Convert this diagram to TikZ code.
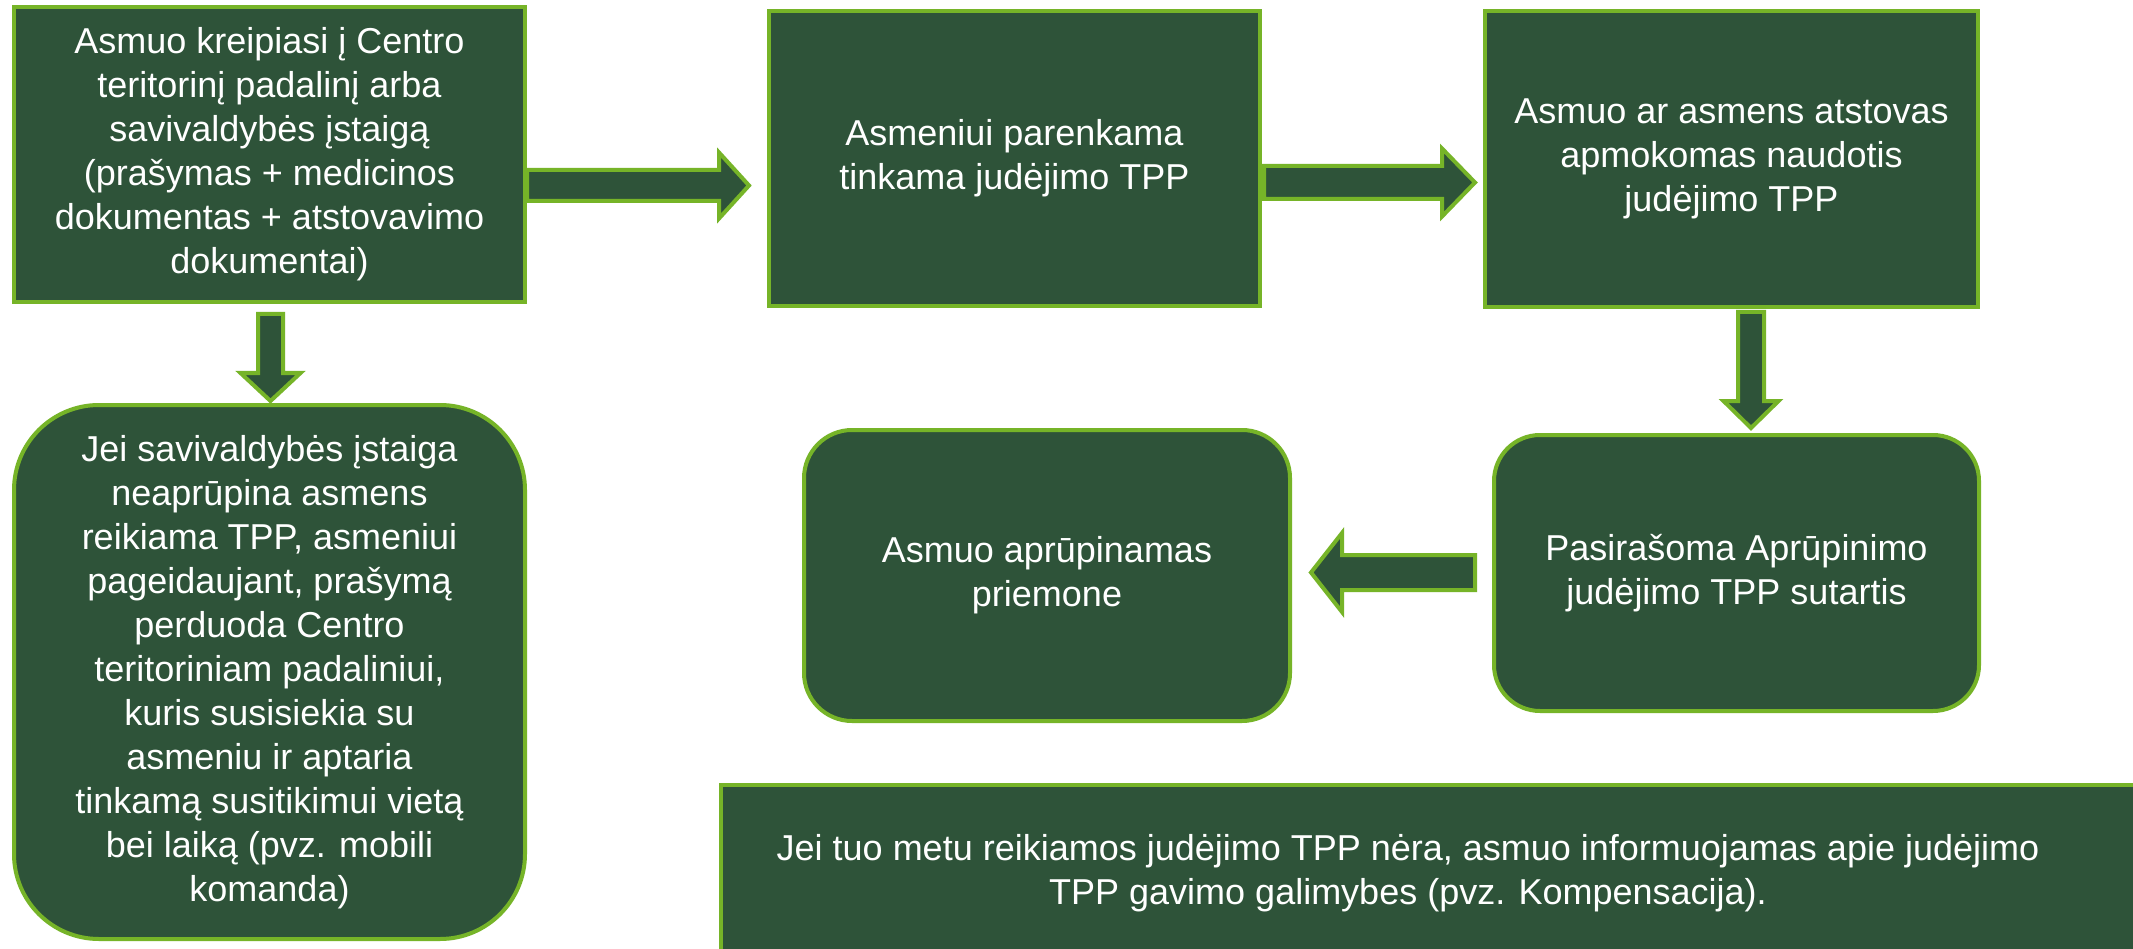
\documentclass[tikz,border=0pt]{standalone}
\usepackage{fontspec}
\setmainfont{Liberation Sans}
\usetikzlibrary{calc}
\definecolor{boxfill}{RGB}{46,83,57}
\definecolor{boxline}{RGB}{118,180,40}
\begin{document}
\begin{tikzpicture}[x=1pt,y=-1pt,
  txt/.style={text=white, align=center, font=\fontsize{36}{44}\selectfont, inner sep=0pt},
  box/.style={txt, draw=boxline, fill=boxfill, line width=4pt},
  arr/.style={draw=boxline, fill=boxfill, line width=4pt, line join=miter}]
\clip (0,0) rectangle (2133,949);
\fill[white] (0,0) rectangle (2133,949);

% boxes
\node[box, minimum width=511pt, minimum height=295pt] (A) at (269.5,154.5)
  {Asmuo kreipiasi į Centro\\teritorinį padalinį arba\\savivaldybės įstaigą\\(prašymas + medicinos\\dokumentas + atstovavimo\\dokumentai)};
\node[box, minimum width=491pt, minimum height=295pt] (B) at (1014.5,158.5)
  {Asmeniui parenkama\\tinkama judėjimo TPP};
\node[box, minimum width=493pt, minimum height=296pt] (C) at (1731.5,159)
  {Asmuo ar asmens atstovas\\apmokomas naudotis\\judėjimo TPP};
\node[box, rounded corners=46pt, minimum width=485pt, minimum height=276pt] (D) at (1736.5,573)
  {Pasirašoma Aprūpinimo\\judėjimo TPP sutartis};
\node[box, rounded corners=48pt, minimum width=486pt, minimum height=291pt] (E) at (1047,575.5)
  {Asmuo aprūpinamas\\priemone};
\node[box, rounded corners=85pt, minimum width=511pt, minimum height=534pt] (F) at (269.5,672)
  {Jei savivaldybės įstaiga\\neaprūpina asmens\\reikiama TPP, asmeniui\\pageidaujant, prašymą\\perduoda Centro\\teritoriniam padaliniui,\\kuris susisiekia su\\asmeniu ir aptaria\\tinkamą susitikimui vietą\\bei laiką (pvz. mobili\\komanda)};
\node[box, minimum width=1439pt, minimum height=177pt] (G) at (1440.5,873.5) {};
\node[txt] (Gt) at (1408,873)
  {Jei tuo metu reikiamos judėjimo TPP nėra, asmuo informuojamas apie judėjimo\\TPP gavimo galimybes (pvz. Kompensacija).};

% helper levels
\coordinate (yab) at (0,185.5);
\coordinate (ybc) at (0,182.5);
\coordinate (xcd) at (1751,0);
\coordinate (yde) at (0,572.5);
\coordinate (xaf) at (270.5,0);

% A -> B
\coordinate (s1) at (A.east |- yab);
\coordinate (t1) at ($(B.west |- yab)+(-18,0)$);
\draw[arr] ($(s1)+(0,-15.5)$) -- ($(t1)+(-30,-15.5)$) -- ($(t1)+(-30,-33)$) -- (t1)
  -- ($(t1)+(-30,33)$) -- ($(t1)+(-30,15.5)$) -- ($(s1)+(0,15.5)$) -- cycle;

% B -> C
\coordinate (s2) at ($(B.east |- ybc)+(2,0)$);
\coordinate (t2) at ($(C.west |- ybc)+(-8,0)$);
\draw[arr] ($(s2)+(0,-16.5)$) -- ($(t2)+(-33,-16.5)$) -- ($(t2)+(-33,-34)$) -- (t2)
  -- ($(t2)+(-33,34)$) -- ($(t2)+(-33,16.5)$) -- ($(s2)+(0,16.5)$) -- cycle;

% C -> D
\coordinate (s3) at ($(xcd |- C.south)+(0,3)$);
\coordinate (t3) at ($(xcd |- D.north)+(0,-5)$);
\draw[arr] ($(s3)+(-13,0)$) -- ($(t3)+(-13,-27)$) -- ($(t3)+(-27.5,-27)$) -- (t3)
  -- ($(t3)+(27.5,-27)$) -- ($(t3)+(13,-27)$) -- ($(s3)+(13,0)$) -- cycle;

% D -> E
\coordinate (s4) at ($(D.west |- yde)+(-17,0)$);
\coordinate (t4) at ($(E.east |- yde)+(19,0)$);
\draw[arr] ($(s4)+(0,-17.5)$) -- ($(t4)+(31,-17.5)$) -- ($(t4)+(31,-39.5)$) -- (t4)
  -- ($(t4)+(31,39.5)$) -- ($(t4)+(31,17.5)$) -- ($(s4)+(0,17.5)$) -- cycle;

% A -> F
\coordinate (s5) at ($(xaf |- A.south)+(0,10)$);
\coordinate (t5) at ($(xaf |- F.north)+(0,-2)$);
\draw[arr] ($(s5)+(-12.5,0)$) -- ($(t5)+(-12.5,-28)$) -- ($(t5)+(-30,-28)$) -- (t5)
  -- ($(t5)+(30,-28)$) -- ($(t5)+(12.5,-28)$) -- ($(s5)+(12.5,0)$) -- cycle;
\end{tikzpicture}
\end{document}
